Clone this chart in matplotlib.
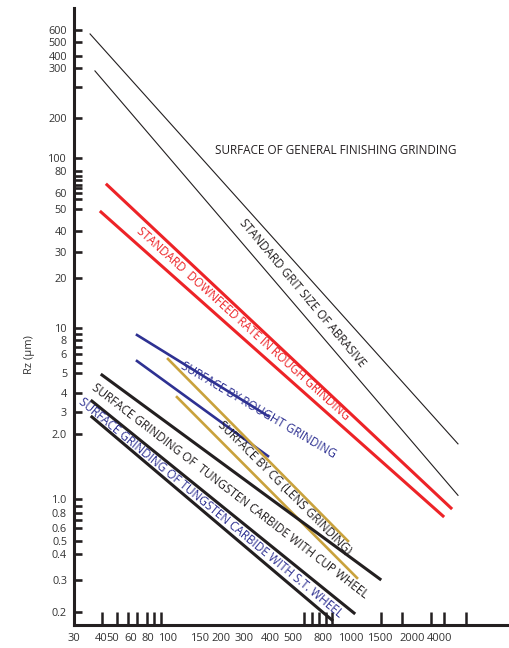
import numpy as np
import matplotlib
matplotlib.use('Agg')
import matplotlib.pyplot as plt

plt.rcParams['font.family'] = ['Open Sans', 'DejaVu Sans']

# ---------------- data ----------------
# grain size / finish lines: [start, end] in (grit or feed value, Rz um)
grit_upper_x = [35.6, 5062]
grit_upper_y = [565, 1.80]
grit_lower_x = [37.5, 5062]
grit_lower_y = [293, 1.04]

downfeed_upper_x = [44.7, 4619]
downfeed_upper_y = [66.8, 0.866]
downfeed_lower_x = [40.0, 4160]
downfeed_lower_y = [48.5, 0.755]

rough_upper_x = [66.4, 391]
rough_upper_y = [8.78, 2.79]
rough_lower_x = [66.4, 391]
rough_lower_y = [5.61, 1.58]

cg_upper_x = [100, 976]
cg_upper_y = [5.72, 0.50]
cg_lower_x = [112, 1088]
cg_lower_y = [3.76, 0.307]

carbide_cup_x = [40.75, 1500]
carbide_cup_y = [4.89, 0.303]
carbide_mid_x = [36.3, 1043]
carbide_mid_y = [3.54, 0.1975]
carbide_st_x = [36.3, 859]
carbide_st_y = [2.74, 0.181]

# tick labels
x_tick_values = [30, 40, 50, 60, 80, 100, 150, 200, 300, 400, 500, 800, 1000, 1500, 2000, 4000]
x_tick_labels = ['30', '40', '50', '60', '80', '100', '150', '200', '300', '400', '500', '800',
                 '1000', '1500', '2000', '4000']
x_mark_values = [41, 52, 58, 66.6, 79, 85.8, 93, 100, 150, 200, 400, 596, 670, 751, 817, 857,
                 1513, 1832, 3200, 4231, 5592]

y_tick_values = [600, 500, 400, 300, 200, 100, 80, 60, 50, 40, 30, 20, 10, 8, 6, 5, 4, 3, 2,
                 1.0, 0.8, 0.6, 0.5, 0.4, 0.3, 0.2]
y_tick_labels = ['600', '500', '400', '300', '200', '100', '80', '60', '50', '40', '30', '20',
                 '10', '8', '6', '5', '4', '3', '2.0', '1.0', '0.8', '0.6', '0.5', '0.4', '0.3', '0.2']
y_extra_marks = [257, 75.3, 71.0, 66.8, 63.7, 56, 8.94, 6.93, 5.5, 0.9, 0.7]

# ---------------- irregular hand-drawn log scales ----------------
x_scale_values = [30, 40, 50, 60, 80, 100, 150, 200, 300, 400, 500, 800, 1000, 1500, 2000, 4000, 10000]
x_scale_pos = [0, 27, 39, 57, 74, 94, 126, 147, 170, 196, 219, 249, 277, 306, 338, 366, 436]
y_scale_values = [0.17, 0.2, 0.3, 0.4, 0.5, 0.6, 0.8, 1.0, 2.0, 3, 4, 5, 6, 8, 10, 20, 30, 40,
                  50, 60, 80, 100, 200, 300, 400, 500, 600, 820]
y_scale_top = [625, 612, 580, 554, 541, 528, 513, 499, 434, 412, 393, 373, 354, 340, 328, 278,
               252, 231, 209, 193, 171, 158, 118, 68, 56, 42, 30, 8]
y_scale_pos = [625 - p for p in y_scale_top]

xl = np.log10(x_scale_values)
yl = np.log10(y_scale_values)


def fx(v):
    v = np.clip(np.asarray(v, dtype=float), 1e-9, None)
    return np.interp(np.log10(v), xl, x_scale_pos)


def ix(p):
    return 10 ** np.interp(np.asarray(p, dtype=float), x_scale_pos, xl)


def fy(v):
    v = np.clip(np.asarray(v, dtype=float), 1e-9, None)
    return np.interp(np.log10(v), yl, y_scale_pos)


def iy(p):
    return 10 ** np.interp(np.asarray(p, dtype=float), y_scale_pos, yl)


W, H = 510, 648
fig = plt.figure(figsize=(W / 100, H / 100), dpi=100)
ax = fig.add_axes([74 / W, (H - 625) / H, (W - 74) / W, (625 - 8) / H])
ax.set_xscale('function', functions=(fx, ix))
ax.set_yscale('function', functions=(fy, iy))
ax.set_xlim(30, 10000)
ax.set_ylim(0.17, 820)

ink = '#231f20'
red = '#ed2327'
navy = '#2e3192'
gold = '#c9a23c'

ax.plot(grit_upper_x, grit_upper_y, color=ink, lw=0.8)
ax.plot(grit_lower_x, grit_lower_y, color=ink, lw=0.8)
ax.plot(downfeed_upper_x, downfeed_upper_y, color=red, lw=2.2)
ax.plot(downfeed_lower_x, downfeed_lower_y, color=red, lw=2.2)
ax.plot(rough_upper_x, rough_upper_y, color=navy, lw=1.9)
ax.plot(rough_lower_x, rough_lower_y, color=navy, lw=1.9)
ax.plot(cg_upper_x, cg_upper_y, color=gold, lw=1.9)
ax.plot(cg_lower_x, cg_lower_y, color=gold, lw=1.9)
ax.plot(carbide_cup_x, carbide_cup_y, color=ink, lw=2.2)
ax.plot(carbide_mid_x, carbide_mid_y, color=ink, lw=2.2)
ax.plot(carbide_st_x, carbide_st_y, color=ink, lw=2.2)

for s in ['top', 'right']:
    ax.spines[s].set_visible(False)
for s in ['left', 'bottom']:
    ax.spines[s].set_linewidth(2.2)
    ax.spines[s].set_color(ink)

ax.set_xticks(x_tick_values)
ax.set_xticklabels(x_tick_labels)
ax.set_xticks(x_mark_values, minor=True)
ax.set_yticks(y_tick_values)
ax.set_yticklabels(y_tick_labels)
ax.set_yticks(y_extra_marks, minor=True)

ax.tick_params(axis='x', which='major', length=0, pad=6, labelsize=8, labelcolor='#333333')
ax.tick_params(axis='x', which='minor', direction='in', length=9.5, width=1.8, color=ink)
ax.tick_params(axis='y', which='both', direction='in', length=5.8, width=1.9, color=ink)
ax.tick_params(axis='y', which='major', pad=5, labelsize=7.8, labelcolor='#333333')
ax.tick_params(axis='y', which='minor', labelleft=False)

fig.text(30 / W, 1 - 355 / H, 'Rz (μm)', rotation=90, ha='center', va='center',
         fontsize=8, color='#333333')


def label(x, y, s, rot, color=ink, size=8.5):
    fig.text(x / W, 1 - y / H, s, rotation=rot, ha='center', va='center',
             rotation_mode='anchor', fontsize=size, color=color)


label(336, 150, 'SURFACE OF GENERAL FINISHING GRINDING', 0)
label(302, 293, 'STANDARD GRIT SIZE OF ABRASIVE', -50)
label(243, 324, 'STANDARD  DOWNFEED RATE IN ROUGH GRINDING', -42, red)
label(258, 410, 'SURFACE BY ROUGHT GRINDING', -30.5, navy)
label(285, 488, 'SURFACE BY CG (LENS GRINDING)', -45)
label(230, 491, 'SURFACE GRINDING OF  TUNGSTEN CARBIDE WITH CUP WHEEL', -37.5)
label(211, 508, 'SURFACE GRINDING OF TUNGSTEN CARBIDE WITH S.T. WHEEL', -39.5, navy)

fig.savefig('out.png', dpi=100)
